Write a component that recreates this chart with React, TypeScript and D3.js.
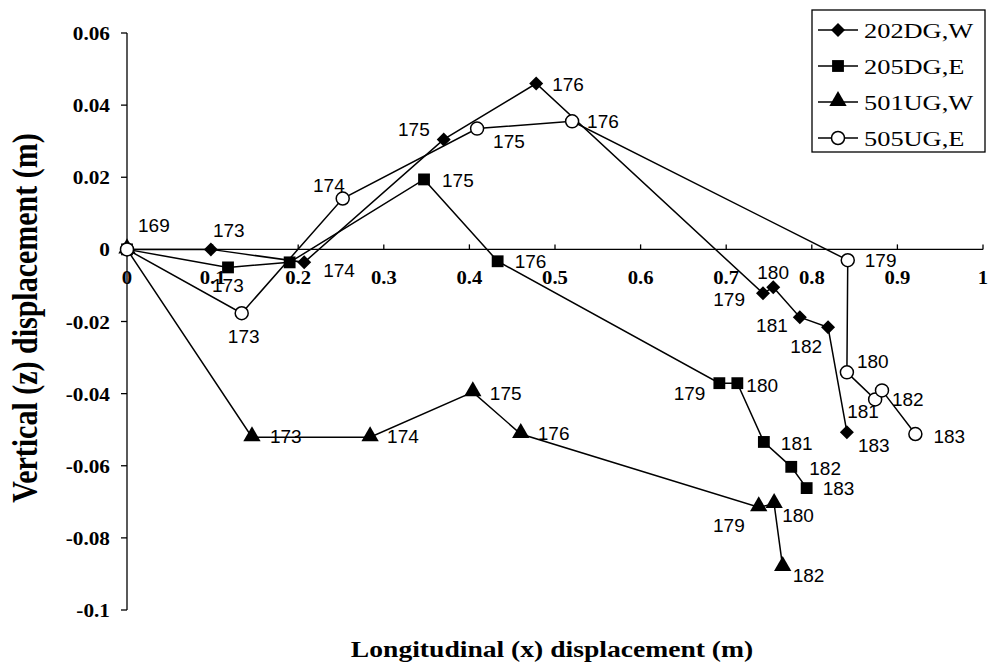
import { useEffect, useRef } from 'react';
import * as d3 from 'd3';

// series values (x, z in metres), with the day labels
const seriesNames = ["202DG,W", "205DG,E", "501UG,W", "505UG,E"];

const x202 = [0, 0.098, 0.207, 0.370, 0.478, 0.743, 0.755, 0.786, 0.819, 0.841];
const z202 = [0, 0, -0.0036, 0.0305, 0.046, -0.0122, -0.0105, -0.0188, -0.0216, -0.0507];
const days202 = ["169", "173", "174", "175", "176", "179", "180", "181", "182", "183"];

const x205 = [0, 0.118, 0.190, 0.347, 0.433, 0.692, 0.713, 0.744, 0.776, 0.794];
const z205 = [0, -0.005, -0.0036, 0.0194, -0.0033, -0.0371, -0.0371, -0.0534, -0.0603, -0.0662];
const days205 = ["", "173", "", "175", "176", "179", "180", "181", "182", "183"];

const x501 = [0, 0.146, 0.284, 0.404, 0.460, 0.738, 0.756, 0.766];
const z501 = [0, -0.0521, -0.0521, -0.0396, -0.0512, -0.0715, -0.0706, -0.0881];
const days501 = ["", "173", "174", "175", "176", "179", "180", "182"];

const x505 = [0, 0.134, 0.252, 0.409, 0.520, 0.842, 0.841, 0.874, 0.882, 0.921];
const z505 = [0, -0.0177, 0.0141, 0.0335, 0.0355, -0.0030, -0.0341, -0.0416, -0.0391, -0.0512];
const days505 = ["", "173", "174", "175", "176", "179", "180", "181", "182", "183"];

const xTicks = [0, 0.1, 0.2, 0.3, 0.4, 0.5, 0.6, 0.7, 0.8, 0.9, 1];
const xTickLabels = ["0", "0.1", "0.2", "0.3", "0.4", "0.5", "0.6", "0.7", "0.8", "0.9", "1"];
const yTicks = [0.06, 0.04, 0.02, 0, -0.02, -0.04, -0.06, -0.08, -0.1];
const yTickLabels = ["0.06", "0.04", "0.02", "0", "-0.02", "-0.04", "-0.06", "-0.08", "-0.1"];

// label placement next to each point: [dx, dy, anchor]
const lab202 = [[11, -17, "start"], [2, -12, "start"], [19, 15, "start"], [-14, -3, "end"], [16, 8, "start"],
  [-18, 13, "end"], [-16, -8, "start"], [-12, 15, "end"], [-6, 26, "end"], [11, 20, "start"]];
const lab205 = [[0, 0, "start"], [-16, 25, "start"], [0, 0, "start"], [18, 8, "start"], [17, 7, "start"],
  [-14, 17, "end"], [9, 9, "start"], [17, 8, "start"], [18, 8, "start"], [16, 7, "start"]];
const lab501 = [[0, 0, "start"], [18, 6, "start"], [17, 6, "start"], [17, 8, "start"], [17, 6, "start"],
  [-14, 25, "end"], [8, 18, "start"], [10, 15, "start"]];
const lab505 = [[0, 0, "start"], [2, 30, "middle"], [2, -7, "end"], [16, 19, "start"], [15, 7, "start"],
  [17, 7, "start"], [10, -4, "start"], [-28, 19, "start"], [10, 16, "start"], [18, 9, "start"]];

const SERIF = "'Liberation Serif', 'Times New Roman', serif";
const SANS = "'Liberation Sans', Arial, sans-serif";

const App = () => {
  const svgRef = useRef(null);

  useEffect(() => {
    const svg = d3.select(svgRef.current);
    svg.selectAll("*").remove();

    const x = d3.scaleLinear().domain([0, 1]).range([127, 983]);
    const y = d3.scaleLinear().domain([-0.1, 0.06]).range([610, 33]);

    const series = [
      { name: seriesNames[0], xs: x202, zs: z202, days: days202, lab: lab202, shape: "diamond" },
      { name: seriesNames[1], xs: x205, zs: z205, days: days205, lab: lab205, shape: "square" },
      { name: seriesNames[2], xs: x501, zs: z501, days: days501, lab: lab501, shape: "triangle" },
      { name: seriesNames[3], xs: x505, zs: z505, days: days505, lab: lab505, shape: "circle" },
    ];

    // axes
    const axes = svg.append("g").attr("stroke", "#000").attr("stroke-width", 1.3);
    axes.append("line").attr("x1", x(0)).attr("x2", x(0)).attr("y1", y(0.06)).attr("y2", y(-0.1));
    axes.append("line").attr("x1", x(0)).attr("x2", x(1)).attr("y1", y(0)).attr("y2", y(0));
    yTicks.forEach(t => {
      axes.append("line").attr("x1", x(0) - 6).attr("x2", x(0)).attr("y1", y(t)).attr("y2", y(t));
    });
    xTicks.forEach(t => {
      axes.append("line").attr("x1", x(t)).attr("x2", x(t)).attr("y1", y(0) - 5).attr("y2", y(0));
    });

    const stretched = (g, tx, ty, sx, txt, size, weight, anchor) =>
      g.append("text")
        .attr("transform", `translate(${tx},${ty}) scale(${sx},1)`)
        .attr("text-anchor", anchor)
        .style("font-family", SERIF)
        .style("font-size", `${size}px`)
        .style("font-weight", weight)
        .text(txt);

    const tickG = svg.append("g").attr("fill", "#000");
    yTicks.forEach((t, i) => stretched(tickG, 110, y(t) + 7, 1.12, yTickLabels[i], 19, "bold", "end"));
    xTicks.forEach((t, i) => stretched(tickG, x(t), 284, 1.15, xTickLabels[i], 18, "bold", "middle"));

    // axis titles
    stretched(svg, 552, 657, 1.2, "Longitudinal (x) displacement (m)", 23, "bold", "middle");
    svg.append("text")
      .attr("transform", "translate(37,318) scale(1.2,1) rotate(-90)")
      .attr("text-anchor", "middle")
      .style("font-family", SERIF)
      .style("font-size", "30px")
      .style("font-weight", "bold")
      .text("Vertical (z) displacement (m)");

    const line = d3.line().x(d => x(d[0])).y(d => y(d[1]));

    const drawMarker = (g, shape, cx, cy) => {
      if (shape === "circle") {
        g.append("circle").attr("cx", cx).attr("cy", cy).attr("r", 6.5)
          .attr("fill", "#fff").attr("stroke", "#000").attr("stroke-width", 1.5);
        return;
      }
      let d;
      if (shape === "diamond") d = "M0,-7L7,0L0,7L-7,0Z";
      else if (shape === "square") d = d3.symbol().type(d3.symbolSquare).size(140)();
      else d = d3.symbol().type(d3.symbolTriangle).size(130)();
      g.append("path")
        .attr("d", d)
        .attr("transform", `translate(${cx},${cy + (shape === "triangle" ? -1 : 0)})`)
        .attr("fill", "#000");
    };

    series.forEach(s => {
      const pts = s.xs.map((v, i) => [v, s.zs[i]]);
      svg.append("path")
        .attr("d", line(pts))
        .attr("fill", "none")
        .attr("stroke", "#000")
        .attr("stroke-width", 1.5);
    });

    series.forEach(s => {
      const g = svg.append("g");
      s.xs.forEach((v, i) => drawMarker(g, s.shape, x(v), y(s.zs[i])));
    });

    // day labels
    const labG = svg.append("g")
      .style("font-family", SANS)
      .style("font-size", "19px")
      .attr("fill", "#000");
    series.forEach(s => {
      s.xs.forEach((v, i) => {
        if (!s.days[i]) return;
        const [dx, dy, anchor] = s.lab[i];
        labG.append("text")
          .attr("x", x(v) + dx)
          .attr("y", y(s.zs[i]) + dy)
          .attr("text-anchor", anchor)
          .text(s.days[i]);
      });
    });

    // legend
    const leg = svg.append("g");
    leg.append("rect")
      .attr("x", 812).attr("y", 10).attr("width", 173).attr("height", 142)
      .attr("fill", "#fff").attr("stroke", "#000").attr("stroke-width", 1.3);
    series.forEach((s, i) => {
      const ly = 30 + i * 36;
      leg.append("line").attr("x1", 818).attr("x2", 858).attr("y1", ly).attr("y2", ly)
        .attr("stroke", "#000").attr("stroke-width", 1.3);
      drawMarker(leg, s.shape, 838, ly);
      stretched(leg, 864, ly + 8, 1.2, s.name, 22, "normal", "start");
    });
  }, []);

  return (
    <svg
      ref={svgRef}
      width={988}
      height={672}
      style={{ position: "absolute", left: 0, top: 0, background: "#fff" }}
    />
  );
};

export default App;
